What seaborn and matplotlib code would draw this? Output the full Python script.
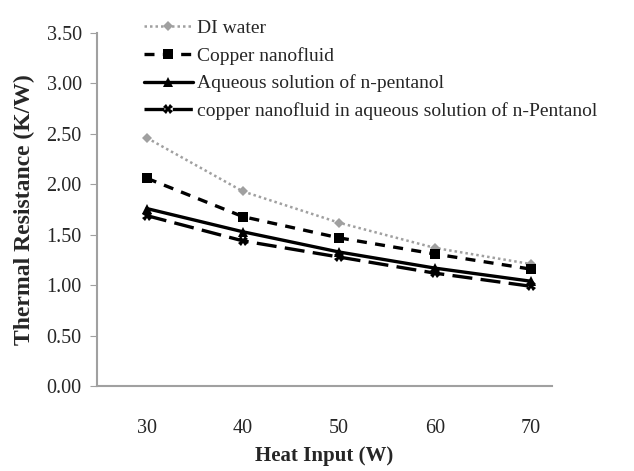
import pandas as pd
import matplotlib.pyplot as plt
import seaborn as sns
from matplotlib.ticker import FormatStrFormatter

heat_input = [30, 40, 50, 60, 70]
di_water = [2.46, 1.93, 1.62, 1.37, 1.21]
copper_nf = [2.06, 1.68, 1.47, 1.31, 1.16]
aq_pentanol = [1.76, 1.53, 1.33, 1.17, 1.04]
copper_aq = [1.69, 1.44, 1.28, 1.12, 0.99]
labels = ['DI water', 'Copper nanofluid', 'Aqueous solution of n-pentanol',
          'copper nanofluid in aqueous solution of n-Pentanol']

sns.set_style('white')
plt.rcParams['font.family'] = ['Liberation Serif', 'DejaVu Serif']

fig = plt.figure(figsize=(6.34, 4.71), dpi=100)
ax = fig.add_axes([0.153, 0.18, 0.718, 0.75])

styles = [
    dict(color='#a0a0a0', marker='D', markersize=5.5, linestyle=(0, (1, 1.2)), linewidth=1.8),
    dict(color='black', marker='s', markersize=6.5, linestyle=(0, (3, 2.5)), linewidth=2.4),
    dict(color='black', marker='^', markersize=6.5, linestyle='-', linewidth=2.4),
    dict(color='black', marker='X', markersize=6.5, linestyle=(0, (6, 2.5)), linewidth=2.4),
]
series = [di_water, copper_nf, aq_pentanol, copper_aq]
for vals, lab, st in zip(series, labels, styles):
    sns.lineplot(x=heat_input, y=vals, ax=ax, label=lab, markeredgewidth=0, **st)

ax.set_xlim(24.8, 72.2)
ax.set_ylim(0, 3.5)
ax.set_xticks(heat_input)
ax.set_yticks([0, 0.5, 1.0, 1.5, 2.0, 2.5, 3.0, 3.5])
ax.yaxis.set_major_formatter(FormatStrFormatter('%.2f'))
for s in ['top', 'right']:
    ax.spines[s].set_visible(False)
for s in ['left', 'bottom']:
    ax.spines[s].set_color('#a0a0a0')
    ax.spines[s].set_linewidth(1.5)
ax.tick_params(axis='y', left=True, length=5, color='#a0a0a0', labelsize=14.5, pad=6)
ax.tick_params(axis='x', bottom=False, labelsize=14.5, pad=20)
ax.set_xlabel('Heat Input (W)', fontsize=15, fontweight='bold', labelpad=6)
ax.set_ylabel('Thermal Resistance (K/W)', fontsize=17, fontweight='bold', labelpad=8)

handles, labs = ax.get_legend_handles_labels()
ax.get_legend().remove()
fig.legend(handles, labs, loc='upper left', bbox_to_anchor=(0.215, 0.975),
           frameon=False, fontsize=14, handlelength=2.5, handletextpad=0.2,
           labelspacing=0.5, borderaxespad=0)

fig.savefig('out.png', dpi=100)
